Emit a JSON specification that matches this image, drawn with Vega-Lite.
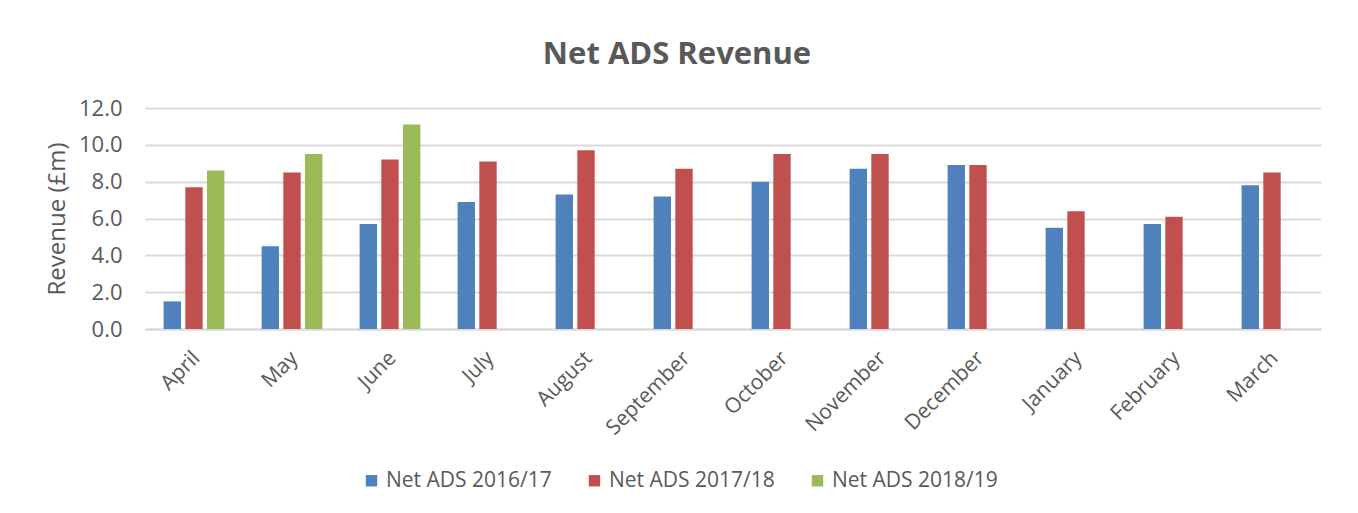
{
  "$schema": "https://vega.github.io/schema/vega-lite/v6.json",
  "width": 1176,
  "height": 221,
  "autosize": "none",
  "padding": {"left": 145, "top": 108, "right": 37, "bottom": 184},
  "background": "white",
  "title": {
    "text": "Net ADS Revenue",
    "font": "Open Sans",
    "fontSize": 31,
    "fontWeight": "bold",
    "color": "#595959",
    "anchor": "middle",
    "dx": -56,
    "offset": 26
  },
  "data": {
    "values": [
      {"month": "April", "series": "Net ADS 2016/17", "value": 1.5},
      {"month": "April", "series": "Net ADS 2017/18", "value": 7.7},
      {"month": "April", "series": "Net ADS 2018/19", "value": 8.6},
      {"month": "May", "series": "Net ADS 2016/17", "value": 4.5},
      {"month": "May", "series": "Net ADS 2017/18", "value": 8.5},
      {"month": "May", "series": "Net ADS 2018/19", "value": 9.5},
      {"month": "June", "series": "Net ADS 2016/17", "value": 5.7},
      {"month": "June", "series": "Net ADS 2017/18", "value": 9.2},
      {"month": "June", "series": "Net ADS 2018/19", "value": 11.1},
      {"month": "July", "series": "Net ADS 2016/17", "value": 6.9},
      {"month": "July", "series": "Net ADS 2017/18", "value": 9.1},
      {"month": "August", "series": "Net ADS 2016/17", "value": 7.3},
      {"month": "August", "series": "Net ADS 2017/18", "value": 9.7},
      {"month": "September", "series": "Net ADS 2016/17", "value": 7.2},
      {"month": "September", "series": "Net ADS 2017/18", "value": 8.7},
      {"month": "October", "series": "Net ADS 2016/17", "value": 8.0},
      {"month": "October", "series": "Net ADS 2017/18", "value": 9.5},
      {"month": "November", "series": "Net ADS 2016/17", "value": 8.7},
      {"month": "November", "series": "Net ADS 2017/18", "value": 9.5},
      {"month": "December", "series": "Net ADS 2016/17", "value": 8.9},
      {"month": "December", "series": "Net ADS 2017/18", "value": 8.9},
      {"month": "January", "series": "Net ADS 2016/17", "value": 5.5},
      {"month": "January", "series": "Net ADS 2017/18", "value": 6.4},
      {"month": "February", "series": "Net ADS 2016/17", "value": 5.7},
      {"month": "February", "series": "Net ADS 2017/18", "value": 6.1},
      {"month": "March", "series": "Net ADS 2016/17", "value": 7.8},
      {"month": "March", "series": "Net ADS 2017/18", "value": 8.5}
    ]
  },
  "mark": {"type": "bar"},
  "encoding": {
    "x": {
      "field": "month",
      "type": "nominal",
      "sort": null,
      "scale": {"paddingInner": 0.38, "paddingOuter": 0.19},
      "axis": {
        "title": null,
        "labelAngle": -45,
        "labelFont": "Open Sans",
        "labelFontSize": 21,
        "labelColor": "#595959",
        "ticks": false,
        "labelPadding": 18,
        "labelOffset": -5,
        "domainColor": "#D9D9D9",
        "domainWidth": 2,
        "grid": false
      }
    },
    "xOffset": {
      "field": "series",
      "type": "nominal",
      "scale": {"domain": ["Net ADS 2016/17", "Net ADS 2017/18", "Net ADS 2018/19"], "paddingInner": 0.2, "paddingOuter": 0}
    },
    "y": {
      "field": "value",
      "type": "quantitative",
      "scale": {"domain": [0, 12], "nice": false},
      "axis": {
        "title": "Revenue (£m)",
        "titleFont": "Open Sans",
        "titleFontSize": 24,
        "titleFontWeight": "normal",
        "titleColor": "#595959",
        "titlePadding": 9,
        "values": [0, 2, 4, 6, 8, 10, 12],
        "format": ".1f",
        "labelFont": "Open Sans",
        "labelFontSize": 22,
        "labelColor": "#595959",
        "labelPadding": 23,
        "ticks": false,
        "domain": false,
        "gridColor": "#D9D9D9",
        "gridWidth": 2
      }
    },
    "color": {
      "field": "series",
      "type": "nominal",
      "scale": {
        "domain": ["Net ADS 2016/17", "Net ADS 2017/18", "Net ADS 2018/19"],
        "range": ["#4F81BD", "#C0504D", "#9BBB59"]
      },
      "legend": {
        "title": null,
        "orient": "none",
        "legendX": 216,
        "legendY": 362,
        "direction": "horizontal",
        "symbolType": "square",
        "symbolSize": 130,
        "symbolStrokeWidth": 0,
        "labelFont": "Open Sans",
        "labelFontSize": 21,
        "labelLimit": 400,
        "labelColor": "#595959",
        "columnPadding": 32
      }
    }
  },
  "config": {
    "view": {"stroke": null}
  }
}
